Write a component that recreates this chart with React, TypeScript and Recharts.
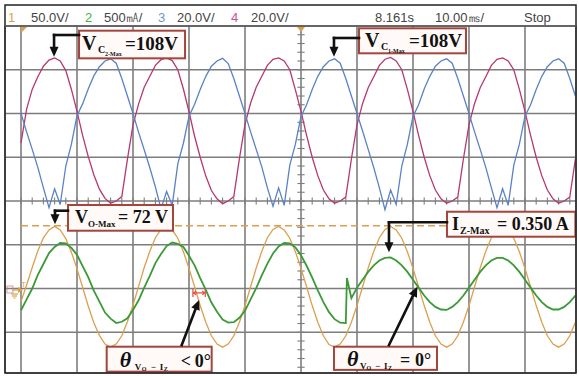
import React from 'react'
import { ComposedChart, Line, XAxis, YAxis, CartesianGrid, ReferenceLine, ReferenceArea } from 'recharts'

const W = 579
const H = 376
const MARGIN = { top: 26, right: 3, bottom: 3, left: 5 }
// screen units are divisions: 10 ms/div across, trigger at t = 0
const X_DOMAIN: [number, number] = [-5.286, 4.911]
const Y_DOMAIN: [number, number] = [-3.931, 4]
const GRID_T = [-5, -4, -3, -2, -1, 0, 1, 2, 3, 4]
const GRID_V = [-3, -2, -1, 0, 1, 2, 3, 4]

const time = Array.from({ length: 100 }, (_, i) => (i - 50) / 10)

// ch1 - output voltage Vo (50 V/div)
const ch1 = [
  -2.30, -1.92, -1.52, -1.14, -0.84, -0.66, -0.58, -0.66, -0.86, -1.17,
  -1.55, -1.97, -2.40, -2.78, -3.07, -3.27, -3.34, -3.27, -3.08, -2.76,
  -2.38, -1.95, -1.52, -1.15, -0.84, -0.65, -0.60, -0.66, -0.85, -1.16,
  -1.54, -1.96, -2.39, -2.77, -3.08, -3.27, -3.34, -3.27, -3.08, -2.77,
  -2.39, -1.96, -1.53, -1.15, -0.84, -0.65, -0.58, -0.66, -0.85, -1.16,
  -1.54, -1.96, -2.39, -2.77, -3.08, -3.28, -3.34, -3.27, -3.08, -2.77,
  -2.39, -1.96, -1.53, -1.15, -0.84, -0.65, -0.58, -0.66, -0.85, -1.16,
  -1.54, -1.96, -2.39, -2.77, -3.08, -3.27, -3.34, -3.27, -3.08, -2.77,
  -2.39, -1.96, -1.53, -1.15, -0.84, -0.65, -0.58, -0.66, -0.85, -1.16,
  -1.54, -1.96, -2.39, -2.77, -3.08, -3.27, -3.34, -3.27, -3.08, -2.77,
]

// ch2 - load current Iz (500 mA/div)
const ch2 = [
  -2.50, -2.25, -2.00, -1.69, -1.44, -1.19, -1.05, -0.96, -0.97, -1.07,
  -1.23, -1.49, -1.74, -2.05, -2.30, -2.55, -2.69, -2.79, -2.76, -2.68,
  -2.49, -2.27, -1.98, -1.71, -1.42, -1.21, -1.03, -0.95, -0.98, -1.05,
  -1.25, -1.47, -1.76, -2.03, -2.32, -2.53, -2.71, -2.78, -2.77, -2.67,
  -2.51, -2.25, -1.99, -1.70, -1.43, -1.20, -1.04, -0.96, -0.97, -1.06,
  -1.24, -1.48, -1.75, -2.04, -2.31, -2.54, -2.70, -2.78, -2.79, -2.22,
  -1.98, -1.80, -1.62, -1.47, -1.36, -1.30, -1.29, -1.36, -1.47, -1.62,
  -1.80, -1.98, -2.16, -2.31, -2.42, -2.48, -2.49, -2.42, -2.31, -2.16,
  -1.98, -1.80, -1.62, -1.47, -1.36, -1.30, -1.30, -1.36, -1.47, -1.62,
  -1.80, -1.98, -2.16, -2.31, -2.42, -2.48, -2.48, -2.42, -2.31, -2.16,
]
const ch2Glitch = [{ t: 0.82, v: -1.76 }]

// ch3 - capacitor voltage Vc1 (20 V/div)
const ch3 = [
  2.00, 1.58, 1.18, 0.77, 0.30, -0.15, 0.28, -0.08, 0.80, 1.30,
  1.95, 2.22, 2.56, 2.86, 3.07, 3.20, 3.25, 3.15, 2.80, 2.40,
  2.00, 1.57, 1.17, 0.76, 0.32, -0.18, 0.22, -0.10, 0.85, 1.32,
  1.94, 2.21, 2.55, 2.85, 3.08, 3.20, 3.26, 3.14, 2.80, 2.40,
  2.00, 1.58, 1.18, 0.78, 0.30, -0.12, 0.30, -0.10, 0.82, 1.30,
  1.93, 2.20, 2.55, 2.85, 3.07, 3.20, 3.25, 3.15, 2.80, 2.40,
  2.00, 1.60, 1.18, 0.76, 0.30, -0.20, 0.25, -0.08, 0.80, 1.30,
  1.93, 2.20, 2.56, 2.85, 3.08, 3.20, 3.25, 3.15, 2.80, 2.40,
  2.00, 1.58, 1.18, 0.77, 0.30, -0.15, 0.28, -0.10, 0.82, 1.30,
  1.94, 2.20, 2.55, 2.85, 3.07, 3.20, 3.25, 3.15, 2.80, 2.40,
]

// ch4 - capacitor voltage Vc2 (20 V/div)
const ch4 = [
  1.33, 2.10, 2.55, 2.84, 3.08, 3.22, 3.27, 3.20, 2.98, 2.55,
  2.05, 1.50, 1.02, 0.60, 0.27, 0.06, -0.05, 0.00, 0.10, 0.95,
  1.74, 2.22, 2.60, 2.85, 3.10, 3.23, 3.27, 3.21, 3.00, 2.56,
  2.04, 1.48, 1.00, 0.57, 0.24, 0.05, -0.06, 0.00, 0.10, 0.97,
  1.75, 2.24, 2.60, 2.85, 3.10, 3.24, 3.27, 3.20, 3.00, 2.54,
  2.05, 1.50, 1.00, 0.58, 0.25, 0.05, -0.05, 0.00, 0.09, 0.96,
  1.74, 2.23, 2.59, 2.84, 3.10, 3.24, 3.28, 3.20, 3.00, 2.55,
  2.05, 1.50, 1.00, 0.58, 0.25, 0.05, -0.05, 0.00, 0.09, 0.96,
  1.74, 2.23, 2.59, 2.84, 3.10, 3.24, 3.27, 3.20, 3.00, 2.55,
  2.05, 1.50, 1.00, 0.58, 0.25, 0.05, -0.05, 0.00, 0.09, 0.96,
]

const VO_MAX_LEVEL = -0.565

const C1 = '#dc9f4e'
const C2 = '#3a9a36'
const C3 = '#5a82c6'
const C4 = '#b53872'
const GRID = '#7d7d7d'
const SERIF = "'Liberation Serif', 'Times New Roman', serif"

const HEADER = [
  { text: '1', x: 8, color: C1 },
  { text: '50.0V/', x: 31 },
  { text: '2', x: 85, color: '#4cb048' },
  { text: '500㎃/', x: 104 },
  { text: '3', x: 158, color: '#6f95d4' },
  { text: '20.0V/', x: 177 },
  { text: '4', x: 231, color: '#c8509a' },
  { text: '20.0V/', x: 251 },
  { text: '8.161s', x: 375 },
  { text: '10.00㎳/', x: 435 },
  { text: 'Stop', x: 524 },
]

const MINOR_V = Array.from({ length: 39 }, (_, i) => -3.8 + i * 0.2)
const MINOR_T = Array.from({ length: 50 }, (_, i) => -5 + i * 0.2)

const pts = (vals: number[]) => vals.map((v, i) => ({ t: time[i], v }))
const ch2Pts = [...pts(ch2), ...ch2Glitch].sort((a, b) => a.t - b.t)

type Piece = { s: string; dx: number; dy: number; size: number; italic?: boolean }

const BOXES: { x1: number; x2: number; y1: number; y2: number; pieces: Piece[] }[] = [
  {
    x1: -3.964, x2: -2.071, y1: 3.261, y2: 3.893,
    pieces: [
      { s: 'V', dx: 3, dy: 19.5, size: 20 },
      { s: 'C', dx: 19, dy: 22, size: 10 },
      { s: '2-Max', dx: 26, dy: 25.5, size: 6 },
      { s: '=108V', dx: 46, dy: 19.5, size: 19 },
    ],
  },
  {
    x1: 1.036, x2: 2.946, y1: 3.376, y2: 3.947,
    pieces: [
      { s: 'V', dx: 6, dy: 19, size: 20 },
      { s: 'C', dx: 22, dy: 21.5, size: 10 },
      { s: '1-Max', dx: 29, dy: 24.5, size: 6 },
      { s: '=108V', dx: 50, dy: 19, size: 19 },
    ],
  },
  {
    x1: -4.161, x2: -2.286, y1: -0.679, y2: -0.091,
    pieces: [
      { s: 'V', dx: 7, dy: 18.5, size: 18 },
      { s: 'O-Max', dx: 20, dy: 22.5, size: 9 },
      { s: '= 72 V', dx: 50, dy: 18.5, size: 18 },
    ],
  },
  {
    x1: 2.607, x2: 4.9, y1: -0.816, y2: -0.245,
    pieces: [
      { s: 'I', dx: 5, dy: 18, size: 18 },
      { s: 'Z-Max', dx: 13, dy: 22, size: 10 },
      { s: '= 0.350 A', dx: 50, dy: 18, size: 18 },
    ],
  },
  {
    x1: -3.47, x2: -1.595, y1: -3.9, y2: -3.33,
    pieces: [
      { s: 'θ', dx: 13, dy: 20, size: 22, italic: true },
      { s: 'V', dx: 28, dy: 23, size: 9 },
      { s: 'O', dx: 35, dy: 24.5, size: 6 },
      { s: '−', dx: 44, dy: 23, size: 9 },
      { s: 'I', dx: 53, dy: 23, size: 9 },
      { s: 'Z', dx: 57, dy: 24.5, size: 6 },
      { s: '<', dx: 74, dy: 20, size: 18 },
      { s: '0°', dx: 88, dy: 20, size: 18 },
    ],
  },
  {
    x1: 0.589, x2: 2.429, y1: -3.86, y2: -3.33,
    pieces: [
      { s: 'θ', dx: 13, dy: 19, size: 22, italic: true },
      { s: 'V', dx: 26, dy: 22, size: 9 },
      { s: 'O', dx: 32.5, dy: 23.5, size: 6 },
      { s: '−', dx: 41, dy: 22, size: 9 },
      { s: 'I', dx: 50, dy: 22, size: 9 },
      { s: 'Z', dx: 54, dy: 23.5, size: 6 },
      { s: '=', dx: 66, dy: 19, size: 18 },
      { s: '0°', dx: 81, dy: 19, size: 18 },
    ],
  },
]

// [from, to, arrowhead]
const ARROWS: [[number, number], [number, number], boolean][] = [
  [[-3.964, 3.794], [-4.41, 3.794], false],
  [[-4.41, 3.794], [-4.41, 3.3], true],
  [[1.036, 3.726], [0.589, 3.726], false],
  [[0.589, 3.726], [0.589, 3.3], true],
  [[-4.161, -0.222], [-4.393, -0.222], false],
  [[-4.393, -0.222], [-4.393, -0.53], true],
  [[2.607, -0.487], [1.571, -0.487], false],
  [[1.571, -0.487], [1.571, -1.17], true],
  [[-2.13, -3.29], [-1.82, -2.26], true],
  [[1.571, -3.29], [2.077, -1.96], true],
]

const arrowShape = (head: boolean) => (p: any) => {
  const { x1, y1, x2, y2 } = p
  const dx = x2 - x1
  const dy = y2 - y1
  const len = Math.hypot(dx, dy) || 1
  const ux = dx / len
  const uy = dy / len
  const hl = head ? 10 : 0
  const hw = 4.5
  const bx = x2 - ux * hl
  const by = y2 - uy * hl
  return (
    <g>
      <line x1={x1} y1={y1} x2={bx} y2={by} stroke="#111" strokeWidth={2.6} strokeLinecap="square" />
      {head && (
        <polygon
          points={`${x2},${y2} ${bx - uy * hw},${by + ux * hw} ${bx + uy * hw},${by - ux * hw}`}
          fill="#111"
        />
      )}
    </g>
  )
}

const spanMarker = (p: any) => {
  const { x1, y1, x2 } = p
  return (
    <g stroke="#e5483a" strokeWidth={1.2} fill="none">
      <line x1={x1} y1={y1} x2={x2} y2={y1} />
      <line x1={x1} y1={y1 - 4} x2={x1} y2={y1 + 4} />
      <line x1={x2} y1={y1 - 4} x2={x2} y2={y1 + 4} />
      <polyline points={`${x1 + 3},${y1 - 2} ${x1 + 1},${y1} ${x1 + 3},${y1 + 2}`} />
      <polyline points={`${x2 - 3},${y1 - 2} ${x2 - 1},${y1} ${x2 - 3},${y1 + 2}`} />
    </g>
  )
}

const boxShape = (pieces: Piece[]) => (p: any) => (
  <g>
    <rect x={p.x} y={p.y} width={p.width} height={p.height} fill="#fffaf8" stroke="#a3453c" strokeWidth={2} />
    <text fontFamily={SERIF} fontWeight="bold" fill="#111">
      {pieces.map((q, i) => (
        <tspan key={i} x={p.x + q.dx} y={p.y + q.dy} fontSize={q.size} fontStyle={q.italic ? 'italic' : 'normal'}>
          {q.s}
        </tspan>
      ))}
    </text>
  </g>
)

export default function App() {
  const abs: React.CSSProperties = { position: 'absolute', left: 0, top: 0 }
  return (
    <div style={{ ...abs, width: W, height: H, background: '#fff', overflow: 'hidden' }}>
      <div style={abs}>
        <ComposedChart width={W} height={H} margin={MARGIN}>
          <XAxis type="number" dataKey="t" domain={X_DOMAIN} ticks={GRID_T} allowDataOverflow hide />
          <YAxis type="number" dataKey="v" domain={Y_DOMAIN} ticks={GRID_V} allowDataOverflow hide />
          <CartesianGrid stroke={GRID} strokeWidth={1.6} />
          {MINOR_V.map((v) => (
            <ReferenceLine key={'mv' + v} segment={[{ x: -0.065, y: v }, { x: 0.065, y: v }]} stroke={GRID} strokeWidth={1.1} />
          ))}
          {MINOR_T.map((t) => (
            <ReferenceLine key={'mt' + t} segment={[{ x: t, y: -0.08 }, { x: t, y: 0.08 }]} stroke={GRID} strokeWidth={1.1} />
          ))}
          <ReferenceLine
            segment={[{ x: -5, y: VO_MAX_LEVEL }, { x: 4.9, y: VO_MAX_LEVEL }]}
            stroke={C1}
            strokeDasharray="7 4"
            strokeWidth={1.4}
          />
          <Line data={pts(ch4)} dataKey="v" type="linear" stroke={C4} strokeWidth={1.3} dot={false} isAnimationActive={false} />
          <Line data={pts(ch3)} dataKey="v" type="linear" stroke={C3} strokeWidth={1.3} dot={false} isAnimationActive={false} />
          <Line data={pts(ch1)} dataKey="v" type="linear" stroke={C1} strokeWidth={1.3} dot={false} isAnimationActive={false} />
          <Line data={ch2Pts} dataKey="v" type="linear" stroke={C2} strokeWidth={1.8} dot={false} isAnimationActive={false} />
        </ComposedChart>
      </div>
      <div style={abs}>
        <ComposedChart width={W} height={H} margin={MARGIN}>
          <XAxis type="number" dataKey="t" domain={X_DOMAIN} allowDataOverflow hide />
          <YAxis type="number" dataKey="v" domain={Y_DOMAIN} allowDataOverflow hide />
          {BOXES.map((b, i) => (
            <ReferenceArea key={'b' + i} x1={b.x1} x2={b.x2} y1={b.y1} y2={b.y2} shape={boxShape(b.pieces)} />
          ))}
          {ARROWS.map(([a, b, head], i) => (
            <ReferenceLine key={'a' + i} segment={[{ x: a[0], y: a[1] }, { x: b[0], y: b[1] }]} shape={arrowShape(head)} />
          ))}
          <ReferenceLine segment={[{ x: -1.93, y: -2.1 }, { x: -1.71, y: -2.1 }]} shape={spanMarker} />
        </ComposedChart>
      </div>
      <svg width={W} height={H} style={{ ...abs, pointerEvents: 'none' }}>
        <rect x={5} y={5} width={571} height={368} fill="none" stroke="#222" strokeWidth={1.5} />
        <line x1={5} y1={26} x2={576} y2={26} stroke="#555" strokeWidth={1.4} />
        <text fontFamily="'Liberation Sans', Arial, sans-serif" fontSize={13} fill="#444">
          {HEADER.map((h, i) => (
            <tspan key={i} x={h.x} y={22} fill={h.color || '#444'}>
              {h.text}
            </tspan>
          ))}
        </text>
        <polygon points="21,27 27,27 21,33" fill={C1} />
        <polygon points="297,27 305,27 301,32" fill={C1} />
        <text x={21} y={287} fontSize={8} fill={C1} fontFamily="'Liberation Sans', sans-serif">T</text>
        <rect x={7} y={286} width={6} height={7} fill="none" stroke="#c88" strokeWidth={0.8} />
        <g stroke={C1} strokeWidth={1.2}>
          <line x1={12} y1={290} x2={19} y2={290} />
          <line x1={11} y1={294} x2={18} y2={294} />
          <line x1={12} y1={296} x2={17} y2={296} />
          <line x1={13.5} y1={298} x2={15.5} y2={298} />
        </g>
        <polygon points="23,290 18,287 18,293" fill={C1} />
      </svg>
    </div>
  )
}
